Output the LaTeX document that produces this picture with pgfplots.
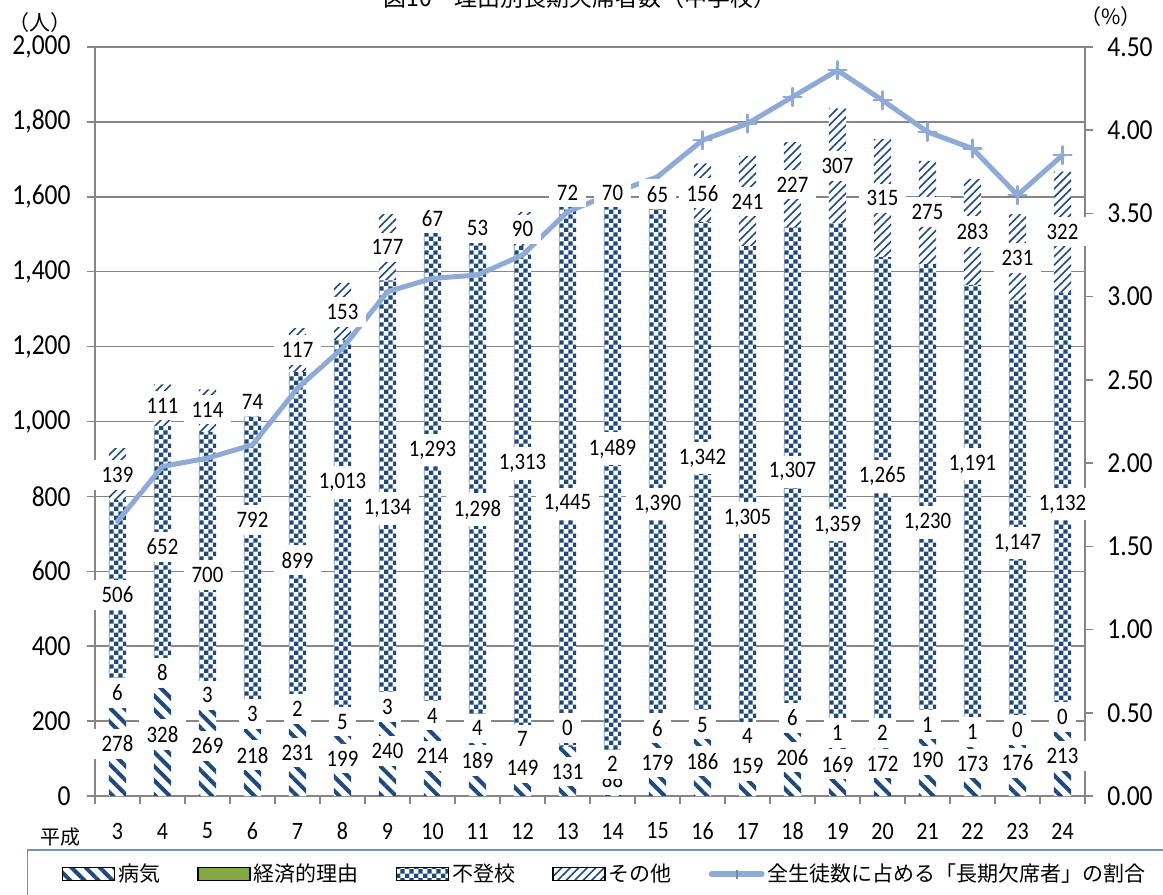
\documentclass[border=0pt]{standalone}
\usepackage{fontspec}
\setmainfont{Carlito}[FakeStretch=0.88]
\newfontfamily\jp{Noto Sans CJK JP}
\usepackage{pgfplots}
\usepackage{pgfplotstable}
\pgfplotsset{compat=1.18}
\usetikzlibrary{patterns,patterns.meta}

\definecolor{pblue}{RGB}{31,73,125}
\definecolor{econg}{RGB}{133,168,69}
\definecolor{linec}{RGB}{143,170,212}
\definecolor{gridc}{RGB}{134,134,134}
\definecolor{legc}{RGB}{110,145,200}

\pgfdeclarepattern{
  name=bigcheck, type=uncolored,
  bottom left={\pgfpoint{0pt}{0pt}}, top right={\pgfpoint{4.4pt}{4.4pt}},
  tile size={\pgfpoint{4.4pt}{4.4pt}},
  code={
    \pgfpathrectangle{\pgfpoint{0pt}{0pt}}{\pgfpoint{2.2pt}{2.2pt}}
    \pgfpathrectangle{\pgfpoint{2.2pt}{2.2pt}}{\pgfpoint{2.2pt}{2.2pt}}
    \pgfusepath{fill}
  }
}

\pgfplotsset{
  /pgf/number format/assume math mode=true,
  /pgf/number format/1000 sep={,},
  barleg/.style={legend image code/.code={\draw[##1] (0pt,-3.25pt) rectangle (26pt,3.25pt);}},
  lineleg/.style={color=linec, line width=2.5pt,
    legend image code/.code={%
      \draw[color=linec, line width=3pt, line cap=round] (1.5pt,0pt) -- (26.5pt,0pt);
      \draw[color=linec!80!black, line width=0.8pt] (14pt,-2.2pt) -- (14pt,2.2pt);}},
  sickst/.style={draw=none, preaction={fill=white}, pattern={Lines[angle=-45,distance=5pt,line width=2pt]}, pattern color=pblue, barleg},
  econst/.style={draw=none, fill=econg, barleg},
  truantst/.style={draw=none, preaction={fill=white}, pattern=bigcheck, pattern color=pblue, barleg},
  otherst/.style={draw=none, preaction={fill=white}, pattern={Lines[angle=45,distance=3pt,line width=0.8pt]}, pattern color=pblue, barleg},
  commonax/.style={at={(47.5pt,49.5pt)}, anchor=south west, scale only axis,
    width=495pt, height=374.5pt, xmin=-0.5, xmax=21.5},
}

% x: category index (0 = Heisei 3); S: illness, E: economic, F: school refusal, O: other
% EL, FL, OL: label heights of E, F, O; R: rate (%)
\pgfplotstableread{
x S E F O EL FL OL R
0 278 6 506 139 275 537 857 1.65
1 328 8 652 111 329 666 1042 1.98
2 269 3 700 114 269 590 1031 2.03
3 218 3 792 74 219 737 1053 2.11
4 231 2 899 117 232 630 1191 2.45
5 199 5 1013 153 198 837 1293 2.69
6 240 3 1134 177 238 768 1465 3.03
7 214 4 1293 67 214 924 1543 3.11
8 189 4 1298 53 181 764 1516 3.13
9 149 7 1313 90 152 888 1513 3.25
10 131 0 1445 72 181 780 1611 3.51
11 88 2 1489 70 85 928 1611 3.62
12 179 6 1390 65 181 780 1607 3.72
13 186 5 1342 156 190 902 1609 3.94
14 159 4 1305 241 160 742 1587 4.04
15 206 6 1307 227 208 866 1632 4.20
16 169 1 1359 307 168 724 1682 4.36
17 172 2 1265 315 168 854 1596 4.18
18 190 1 1230 275 190 730 1560 3.99
19 173 1 1191 283 171 886 1507 3.89
20 176 0 1147 231 176 675 1436 3.61
21 213 0 1132 322 211 780 1507 3.85
}\data

\begin{document}
\begin{tikzpicture}
% ---- bars, left axis, grid, legend
\begin{axis}[commonax,
  ymin=0, ymax=2000,
  ybar stacked, bar width=8.7pt,
  axis lines*=left,
  axis line style={draw=gridc, line width=0.75pt},
  ytick={0,200,...,2000},
  ymajorgrids, grid style={draw=gridc, line width=0.75pt},
  xtick={-0.5,0.5,...,21.5},
  xticklabels={3,4,5,6,7,8,9,10,11,12,13,14,15,16,17,18,19,20,21,22,23,24,{}},
  tick align=outside, major tick length=4pt,
  tick style={draw=gridc, line width=0.75pt},
  scaled y ticks=false,
  yticklabel style={font=\fontsize{14.5}{16}\selectfont, anchor=east, inner sep=0pt, xshift=-8pt},
  xticklabel style={font=\fontsize{12.5}{14}\selectfont, anchor=center, inner sep=0pt, xshift=11.25pt, yshift=-13.5pt},
  legend columns=5,
  legend cell align=left,
  legend style={at={(-0.0687,-0.0708)}, anchor=north west, draw=legc, line width=0.75pt,
    inner xsep=17pt, inner ysep=5.5pt, font=\jp\fontsize{10.5}{12}\selectfont,
    nodes={inner xsep=1.5pt, inner ysep=1.5pt},
    /tikz/every even column/.append style={column sep=17pt}},
]
\addplot[sickst] table[x=x,y=S]{\data};
\addlegendentry{病気}
\addplot[econst] table[x=x,y=E]{\data};
\addlegendentry{経済的理由}
\addplot[truantst] table[x=x,y=F]{\data};
\addlegendentry{不登校}
\addplot[otherst] table[x=x,y=O]{\data};
\addlegendentry{その他}
\addlegendimage{lineleg}
\addlegendentry{全生徒数に占める「長期欠席者」の割合}
\end{axis}
% ---- rate line, right axis
\begin{axis}[commonax,
  ymin=0, ymax=4.5,
  axis y line*=right, axis x line=none,
  axis line style={draw=gridc, line width=0.75pt},
  ytick={0,0.5,...,4.5},
  tick align=outside, major tick length=4pt,
  tick style={draw=gridc, line width=0.75pt},
  yticklabel style={font=\fontsize{14.5}{16}\selectfont, anchor=west, inner sep=0pt, xshift=7pt,
    /pgf/number format/.cd, fixed, fixed zerofill, precision=2},
]
\addplot[color=linec, line width=2.5pt, line join=round, line cap=round, mark=+, mark size=4.5pt,
  mark options={line width=1.1pt}, mark indices={14,15,16,17,18,19,20,21,22}]
  table[x=x,y=R]{\data};
\end{axis}
% ---- data labels
\begin{axis}[commonax,
  ymin=0, ymax=2000, hide axis, clip=false,
  nodes near coords, point meta=explicit,
  nodes near coords align={center},
  every node near coord/.append style={anchor=center, fill=white, inner xsep=4pt, inner ysep=3.5pt,
    font=\fontsize{11.8}{13}\selectfont, text=black},
]
\addplot[draw=none, mark=none] table[x=x, y expr=\thisrow{S}/2, meta=S]{\data};
\addplot[draw=none, mark=none] table[x=x, y=EL, meta=E]{\data};
\addplot[draw=none, mark=none] table[x=x, y=FL, meta=F]{\data};
\addplot[draw=none, mark=none] table[x=x, y=OL, meta=O]{\data};
\end{axis}
\node[anchor=base] at (290pt,444.25pt) {\jp\fontsize{11.5}{13}\selectfont 図10　理由別長期欠席者数（中学校）};
\node at (20pt,436.25pt) {\jp\fontsize{10.5}{12}\selectfont （人）};
\node at (555.5pt,439pt) {\jp\fontsize{10.5}{12}\selectfont （\%）};
\node at (30pt,29pt) {\jp\fontsize{10}{12}\selectfont 平成};
\pgfresetboundingbox
\useasboundingbox (0,0) rectangle (581.5pt,447.5pt);
\end{tikzpicture}
\end{document}
